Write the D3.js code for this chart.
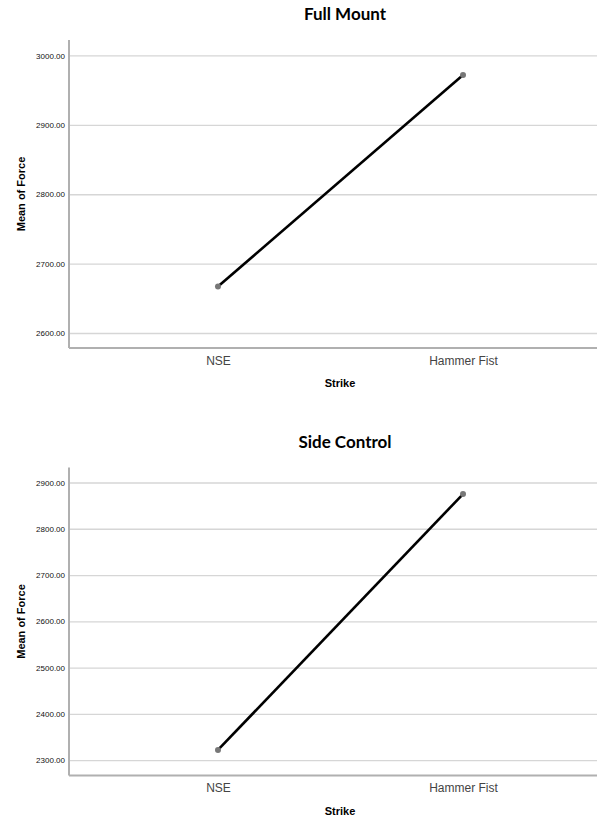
<!DOCTYPE html>
<html>
<head>
<meta charset="utf-8">
<script src="https://cdn.jsdelivr.net/npm/d3@7"></script>
<style>
  body { margin: 0; background: #fff; }
  .title { font-family: Lato, "Open Sans", sans-serif; font-weight: bold; font-size: 17px; fill: #000; }
  .axtitle { font-family: Arial, "Liberation Sans", sans-serif; font-weight: bold; font-size: 11px; fill: #000; }
  .ytick text { font-family: Arial, "Liberation Sans", sans-serif; font-size: 8px; fill: #111; }
  .xtick text { font-family: Arial, "Liberation Sans", sans-serif; font-size: 12px; fill: #444; }
</style>
</head>
<body>
<svg id="chart" width="597" height="816"></svg>
<script>
var strikes = ["NSE", "Hammer Fist"];
var fullMount = [2667, 2972];
var sideControl = [2322, 2875];
var fullMountTicks = [2600, 2700, 2800, 2900, 3000];
var sideControlTicks = [2300, 2400, 2500, 2600, 2700, 2800, 2900];

var svg = d3.select("#chart");

// one panel: title, axes, grid, line + dots
function panel(top, title, values, ticks, domain) {
  var left = 69, plotH = 308, plotW = 543;
  var g = svg.append("g").attr("transform", "translate(" + left + "," + top + ")");

  var x = d3.scalePoint().domain(strikes).range([0, plotW]).padding(0.608);
  var y = d3.scaleLinear().domain(domain).range([plotH, 0]);

  // grid + tick labels
  var ya = g.append("g").attr("class", "ytick")
    .call(d3.axisLeft(y).tickValues(ticks).tickFormat(d3.format(".2f")).tickSize(-600).tickPadding(4));
  ya.select(".domain").remove();
  ya.selectAll("line").attr("stroke", "#d6d6d6").attr("stroke-width", 1.3);

  var xa = g.append("g").attr("class", "xtick").attr("transform", "translate(0," + plotH + ")")
    .call(d3.axisBottom(x).tickSize(0).tickPadding(8));
  xa.select(".domain").remove();

  // axis lines
  g.append("line").attr("x1", 0).attr("x2", 0).attr("y1", 0).attr("y2", plotH)
    .attr("stroke", "#b0b0b0").attr("stroke-width", 2);
  g.append("line").attr("x1", 0).attr("x2", 600).attr("y1", plotH).attr("y2", plotH)
    .attr("stroke", "#b0b0b0").attr("stroke-width", 2);

  var line = d3.line().x(function(d, i) { return x(strikes[i]); }).y(function(d) { return y(d); });
  g.append("path").datum(values).attr("d", line)
    .attr("fill", "none").attr("stroke", "#000").attr("stroke-width", 2.6);

  g.selectAll(".pt").data(values).enter().append("circle")
    .attr("class", "pt")
    .attr("cx", function(d, i) { return x(strikes[i]); })
    .attr("cy", function(d) { return y(d); })
    .attr("r", 3).attr("fill", "#777");

  svg.append("text").attr("class", "title").attr("x", 345).attr("y", top - 20)
    .attr("text-anchor", "middle").text(title);
  svg.append("text").attr("class", "axtitle").attr("x", 340).attr("y", top + plotH + 39)
    .attr("text-anchor", "middle").text("Strike");
  svg.append("text").attr("class", "axtitle")
    .attr("transform", "translate(25," + (top + plotH / 2) + ") rotate(-90)")
    .attr("text-anchor", "middle").text("Mean of Force");
}

panel(40, "Full Mount", fullMount, fullMountTicks, [2578.4, 3022.3]);
panel(467.5, "Side Control", sideControl, sideControlTicks, [2266.8, 2932.4]);
</script>
</body>
</html>
